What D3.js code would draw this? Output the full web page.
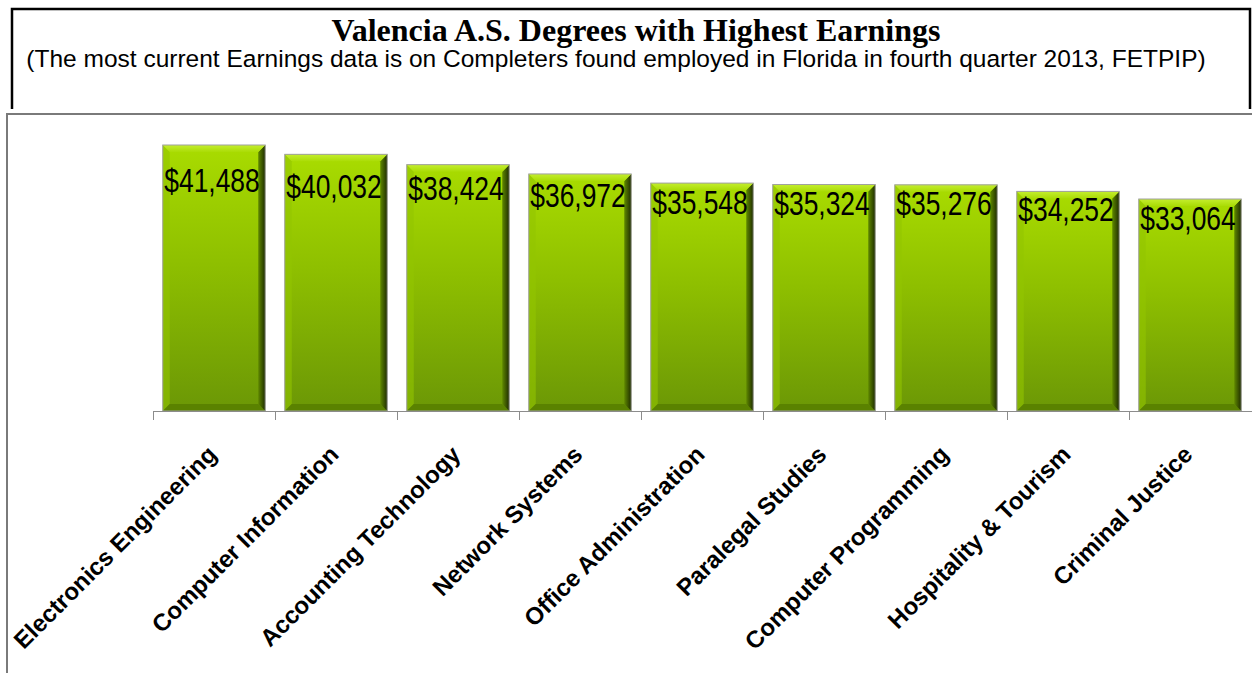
<!DOCTYPE html>
<html>
<head>
<meta charset="utf-8">
<script src="https://cdn.jsdelivr.net/npm/d3@7"></script>
<style>
  body { margin: 0; background: #fff; }
  svg { display: block; }
</style>
</head>
<body>
<div id="chart"></div>
<script>
// data
var degrees = ['Electronics Engineering', 'Computer Information', 'Accounting Technology',
  'Network Systems', 'Office Administration', 'Paralegal Studies',
  'Computer Programming', 'Hospitality & Tourism', 'Criminal Justice'];
var earnings = [41488, 40032, 38424, 36972, 35548, 35324, 35276, 34252, 33064];

var titre = 'Valencia A.S. Degrees with Highest Earnings';
var sousTitre = '(The most current Earnings data is on Completers found employed in Florida in fourth quarter 2013, FETPIP)';

var W = 1252, H = 673;

var svg = d3.select('#chart').append('svg')
  .attr('width', W)
  .attr('height', H);

// gradients for the bevelled bars
var defs = svg.append('defs');
var g1 = defs.append('linearGradient').attr('id', 'fond').attr('x1', 0).attr('y1', 0).attr('x2', 0).attr('y2', 1);
g1.append('stop').attr('offset', '0%').attr('stop-color', '#a9dc00');
g1.append('stop').attr('offset', '45%').attr('stop-color', '#8ebf00');
g1.append('stop').attr('offset', '100%').attr('stop-color', '#6b9706');
var g2 = defs.append('linearGradient').attr('id', 'droite').attr('x1', 0).attr('y1', 0).attr('x2', 1).attr('y2', 0);
g2.append('stop').attr('offset', '0%').attr('stop-color', '#5f8800');
g2.append('stop').attr('offset', '100%').attr('stop-color', '#1f2d00');
var g3 = defs.append('linearGradient').attr('id', 'haut').attr('x1', 0).attr('y1', 0).attr('x2', 0).attr('y2', 1);
g3.append('stop').attr('offset', '0%').attr('stop-color', '#c4ee2e');
g3.append('stop').attr('offset', '100%').attr('stop-color', '#aadc06');

// header box
svg.append('path')
  .attr('d', 'M12,109 V9 H1250 V109')
  .attr('fill', 'none')
  .attr('stroke', '#000')
  .attr('stroke-width', 2.5);

svg.append('text')
  .attr('x', 636)
  .attr('y', 41)
  .attr('text-anchor', 'middle')
  .style('font-family', '"Liberation Serif", "Times New Roman", serif')
  .style('font-weight', 'bold')
  .style('font-size', '32px')
  .text(titre);

svg.append('text')
  .attr('x', 616)
  .attr('y', 67)
  .attr('text-anchor', 'middle')
  .style('font-family', '"Liberation Sans", Arial, sans-serif')
  .style('font-size', '24.5px')
  .text(sousTitre);

// chart box
svg.append('path')
  .attr('d', 'M7,' + H + ' V114 H' + (W + 5))
  .attr('fill', 'none')
  .attr('stroke', '#7a7a7a')
  .attr('stroke-width', 2);

// scales
var x = d3.scaleBand()
  .domain(degrees)
  .range([153, 1251])
  .padding(0);

var y = d3.scaleLinear()
  .domain([0, d3.max(earnings)])
  .range([411, 145]);

// label positions (they sit unevenly in the original)
var yLab = d3.scaleLinear()
  .domain([33064, 34252, 35548, 36972, 38424, 40032, 41488])
  .range([230, 221, 214, 207, 200, 198, 192]);

var bw = x.bandwidth() * 0.84;
var off = x.bandwidth() * 0.08;
var b = 7;

var barres = svg.selectAll('.barre')
  .data(earnings)
  .enter().append('g')
  .attr('class', 'barre');

function bevel(d, i, cote) {
  var x0 = x(degrees[i]) + off, x1 = x0 + bw, y0 = y(d), y1 = y(0);
  if (cote == 'haut') return 'M' + x0 + ',' + y0 + 'H' + x1 + 'L' + (x1 - b) + ',' + (y0 + b) + 'H' + (x0 + b) + 'Z';
  if (cote == 'droite') return 'M' + x1 + ',' + y0 + 'V' + y1 + 'L' + (x1 - b) + ',' + (y1 - b) + 'V' + (y0 + b) + 'Z';
  if (cote == 'bas') return 'M' + x0 + ',' + y1 + 'H' + x1 + 'L' + (x1 - b) + ',' + (y1 - b) + 'H' + (x0 + b) + 'Z';
  return 'M' + x0 + ',' + y0 + 'L' + (x0 + b) + ',' + (y0 + b) + 'V' + (y1 - b) + 'L' + x0 + ',' + y1 + 'Z';
}

barres.append('rect')
  .attr('x', function(d, i) { return x(degrees[i]) + off; })
  .attr('y', function(d) { return y(d); })
  .attr('width', bw)
  .attr('height', function(d) { return y(0) - y(d); })
  .attr('fill', 'url(#fond)');

barres.append('path')
  .attr('d', function(d, i) { return bevel(d, i, 'gauche'); })
  .attr('fill', '#93c400')
  .attr('fill-opacity', 0.6);
barres.append('path')
  .attr('d', function(d, i) { return bevel(d, i, 'bas'); })
  .attr('fill', '#5a8200');
barres.append('path')
  .attr('d', function(d, i) { return bevel(d, i, 'droite'); })
  .attr('fill', 'url(#droite)');
barres.append('path')
  .attr('d', function(d, i) { return bevel(d, i, 'haut'); })
  .attr('fill', 'url(#haut)');

barres.append('rect')
  .attr('x', function(d, i) { return x(degrees[i]) + off; })
  .attr('y', function(d) { return y(d); })
  .attr('width', bw)
  .attr('height', function(d) { return y(0) - y(d); })
  .attr('fill', 'none')
  .attr('stroke', '#a0a0a0')
  .attr('stroke-width', 1);

// narrow font is not installed: squeeze Liberation Sans instead
barres.append('text')
  .attr('transform', function(d, i) {
    return 'translate(' + (x(degrees[i]) + x.bandwidth() / 2 - 2) + ',' + yLab(d) + ') scale(0.8,1)';
  })
  .attr('text-anchor', 'middle')
  .style('font-family', '"Liberation Sans", Arial, sans-serif')
  .style('font-size', '33px')
  .style('fill', '#000')
  .text(function(d) { return '$' + d3.format(',')(d); });

// x axis
var xAxis = svg.append('g')
  .attr('transform', 'translate(0,411)');

xAxis.append('line')
  .attr('x1', 153).attr('x2', W)
  .attr('y1', 0.5).attr('y2', 0.5)
  .attr('stroke', '#8c8c8c');

xAxis.selectAll('.tick')
  .data(degrees)
  .enter().append('line')
  .attr('class', 'tick')
  .attr('x1', function(d) { return Math.round(x(d)) + 0.5; })
  .attr('x2', function(d) { return Math.round(x(d)) + 0.5; })
  .attr('y1', 0).attr('y2', 9)
  .attr('stroke', '#8c8c8c');

xAxis.selectAll('.lab')
  .data(degrees)
  .enter().append('text')
  .attr('class', 'lab')
  .attr('transform', function(d) { return 'translate(' + (x(d) + x.bandwidth() / 2 + 4) + ',45) rotate(-45)'; })
  .attr('text-anchor', 'end')
  .style('font-family', '"Liberation Sans", Arial, sans-serif')
  .style('font-weight', 'bold')
  .style('font-size', '24px')
  .text(function(d) { return d; });
</script>
</body>
</html>
